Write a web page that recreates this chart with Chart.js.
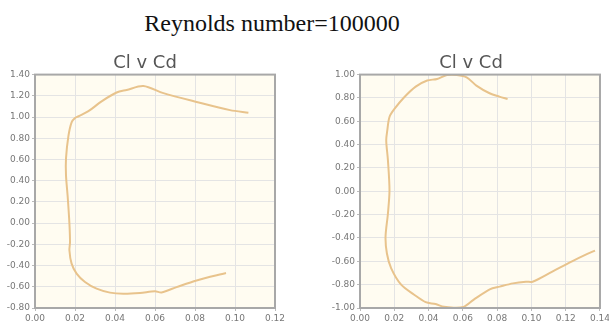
<!DOCTYPE html>
<html>
<head>
<meta charset="utf-8">
<script src="https://cdn.jsdelivr.net/npm/chart.js@4"></script>
<style>
  html, body { margin: 0; padding: 0; background: #fff; overflow: hidden; width: 609px; height: 327px; }
  #heading { position: absolute; left: 0; width: 544px; top: 10px; text-align: center;
    font-family: "Liberation Serif", serif; font-size: 24px; color: #111; }
  #left { position: absolute; left: 0; top: 40px; }
  #right { position: absolute; left: 330px; top: 40px; }
</style>
</head>
<body>
<div id="heading">Reynolds number=100000</div>
<canvas id="left" width="290" height="287"></canvas>
<canvas id="right" width="282" height="287"></canvas>
<script>
// left polar (Cd, Cl)
const leftCd = [0.0955, 0.0808, 0.0708, 0.0633, 0.0600, 0.0525, 0.0442, 0.0375, 0.0308, 0.0250,
  0.0208, 0.0183, 0.0172, 0.0175, 0.0172, 0.0163, 0.0155, 0.0155, 0.0167, 0.0183,
  0.0200, 0.0215, 0.0267, 0.0333, 0.0408, 0.0458, 0.0542, 0.0642, 0.0808, 0.0975, 0.1067];
const leftCl = [-0.47, -0.54, -0.603, -0.653, -0.643, -0.658, -0.665, -0.655, -0.618, -0.555,
  -0.476, -0.382, -0.256, -0.18, 0.0, 0.26, 0.45, 0.61, 0.82, 0.95,
  0.99, 1.005, 1.055, 1.148, 1.231, 1.255, 1.292, 1.225, 1.142, 1.065, 1.04];

// right polar
const rightCd = [0.1371, 0.1314, 0.1237, 0.1122, 0.1007, 0.0968, 0.0892, 0.0815, 0.0757, 0.0662,
  0.0604, 0.0547, 0.0489, 0.0441, 0.0383, 0.0316, 0.0240, 0.0182, 0.0157, 0.0149,
  0.0163, 0.0172, 0.0163, 0.0153, 0.0159, 0.0172, 0.0201, 0.0258, 0.0325, 0.0392,
  0.0450, 0.0507, 0.0565, 0.0622, 0.0679, 0.0756, 0.0813, 0.0861];
const rightCl = [-0.508, -0.545, -0.60, -0.688, -0.775, -0.775, -0.789, -0.817, -0.84, -0.93,
  -0.99, -0.997, -0.99, -0.966, -0.95, -0.886, -0.80, -0.66, -0.533, -0.39,
  -0.19, 0.009, 0.265, 0.436, 0.52, 0.637, 0.706, 0.806, 0.897, 0.949,
  0.963, 0.997, 0.997, 0.977, 0.906, 0.84, 0.811, 0.791];

const chartTitle = "Cl v Cd";
const lineColor = "#e8c38c";

// cream plot background + grey frame
const frame = {
  id: "frame",
  beforeDraw(chart) {
    const a = chart.chartArea, ctx = chart.ctx;
    ctx.save();
    ctx.fillStyle = "#fffcf1";
    ctx.fillRect(a.left, a.top, a.right - a.left, a.bottom - a.top);
    ctx.restore();
  },
  afterDatasetsDraw(chart) {
    const a = chart.chartArea, ctx = chart.ctx;
    ctx.save();
    ctx.strokeStyle = "#a8a8a8";
    ctx.lineWidth = 2;
    ctx.strokeRect(a.left, a.top, a.right - a.left, a.bottom - a.top);
    ctx.restore();
  }
};

function makeChart(id, cd, cl, xMax, yMin, yMax, yWidth, rightGap) {
  const points = cd.map((x, i) => ({ x: x, y: cl[i] }));
  const tickFont = { family: "DejaVu Sans", size: 9 };
  return new Chart(document.getElementById(id), {
    type: "scatter",
    data: {
      datasets: [{
        data: points,
        showLine: true,
        borderColor: lineColor,
        borderWidth: 2,
        pointRadius: 0,
        tension: 0.3,
        fill: false
      }]
    },
    options: {
      responsive: false,
      animation: false,
      devicePixelRatio: 1,
      layout: { padding: 0 },
      plugins: {
        legend: { display: false },
        tooltip: { enabled: false },
        title: {
          display: true,
          text: chartTitle,
          color: "#555",
          font: { family: "DejaVu Sans", size: 18, weight: "normal" },
          padding: { top: 13, bottom: 0 }
        }
      },
      scales: {
        x: {
          min: 0, max: xMax,
          afterFit(scale) { scale.height = 19; },
          ticks: {
            stepSize: 0.02,
            color: "#777",
            font: tickFont,
            padding: 2,
            maxRotation: 0,
            callback: v => v.toFixed(2)
          },
          grid: { color: "#e4e4e4", tickLength: 3, tickColor: "#bbb" },
          border: { display: false }
        },
        y: {
          min: yMin, max: yMax,
          afterFit(scale) { scale.width = yWidth; },
          ticks: {
            stepSize: 0.2,
            color: "#777",
            font: tickFont,
            padding: 2,
            callback: v => v.toFixed(2)
          },
          grid: { color: "#e4e4e4", tickLength: 3, tickColor: "#bbb" },
          border: { display: false }
        },
        // empty spacer on the right so the title centres over the whole canvas
        gap: {
          position: "right",
          afterFit(scale) { scale.width = rightGap; },
          ticks: { display: false },
          grid: { display: false },
          border: { display: false }
        }
      }
    },
    plugins: [frame]
  });
}

makeChart("left", leftCd, leftCl, 0.12, -0.8, 1.4, 35, 15);
makeChart("right", rightCd, rightCl, 0.14, -1.0, 1.0, 30, 9);
</script>
</body>
</html>
